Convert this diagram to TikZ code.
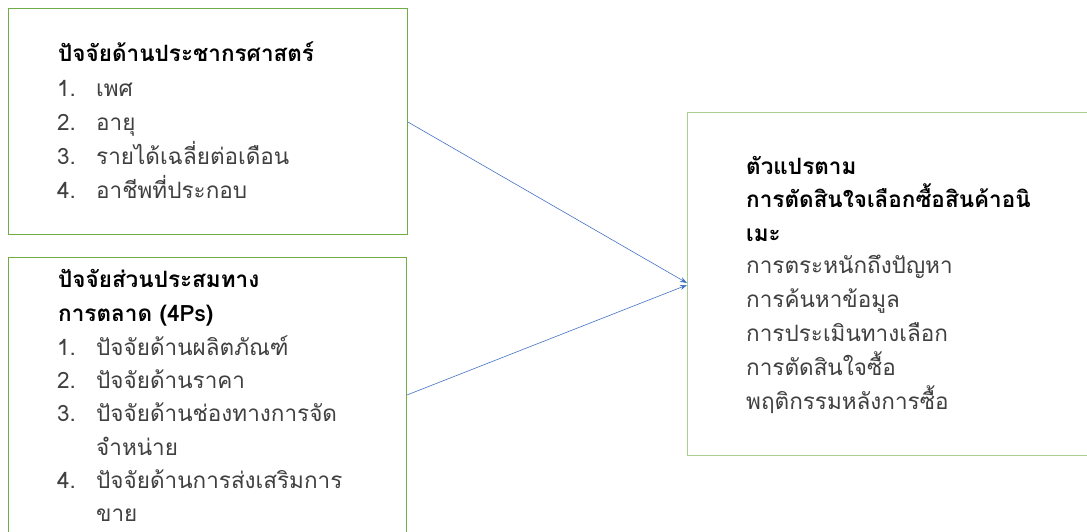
\documentclass[tikz,border=0pt]{standalone}
\usepackage{fontspec}
\setmainfont[Script=Thai]{Loma}
\usetikzlibrary{arrows.meta}
\definecolor{boxgreen}{HTML}{70AD47}
\definecolor{boxlight}{HTML}{A9D18E}
\definecolor{arrblue}{HTML}{4472C4}
\definecolor{itemgray}{HTML}{404040}
\tikzset{
  box/.style={draw=boxgreen, line width=0.9pt, rectangle, anchor=north west, inner sep=0pt},
  txt/.style={anchor=base west, inner sep=0pt, font=\fontsize{22.5}{26}\selectfont, text=itemgray},
  ttl/.style={anchor=base west, inner sep=0pt, font=\fontsize{22.5}{26}\selectfont\bfseries, text=black},
  arr/.style={draw=arrblue, line width=0.6pt, -{Stealth[length=7pt,width=5pt]}}
}
\begin{document}
\begin{tikzpicture}[x=1pt,y=-1pt]
\clip (0,0) rectangle (1087,531);
\fill[white] (0,0) rectangle (1087,531);
% boxes
\node[box, minimum width=399pt, minimum height=226pt] (A) at (8,8) {};
\node[box, minimum width=398pt, minimum height=320pt] (B) at (8,257) {};
\node[box, draw=boxlight, minimum width=420pt, minimum height=343pt] (C) at (687,112) {};
% box A text
\node[ttl] (a0) at (58,61) {ปัจจัยด้านประชากรศาสตร์};
\node[txt] (a1n) at (57,96) {1.};
\node[txt] (a1) at (96,96) {เพศ};
\node[txt] (a2n) at (57,130) {2.};
\node[txt] (a2) at (96,130) {อายุ};
\node[txt] (a3n) at (57,164) {3.};
\node[txt] (a3) at (96,164) {รายได้เฉลี่ยต่อเดือน};
\node[txt] (a4n) at (57,198) {4.};
\node[txt] (a4) at (96,198) {อาชีพที่ประกอบ};
% box B text
\node[ttl] (b0) at (58,287) {ปัจจัยส่วนประสมทาง};
\node[ttl] (b0b) at (58,321) {การตลาด (4Ps)};
\node[txt] (b1n) at (57,355) {1.};
\node[txt] (b1) at (96,355) {ปัจจัยด้านผลิตภัณฑ์};
\node[txt] (b2n) at (57,388) {2.};
\node[txt] (b2) at (96,388) {ปัจจัยด้านราคา};
\node[txt] (b3n) at (57,421) {3.};
\node[txt] (b3) at (96,421) {ปัจจัยด้านช่องทางการจัด};
\node[txt] (b3b) at (96,455) {จำหน่าย};
\node[txt] (b4n) at (57,488) {4.};
\node[txt] (b4) at (96,488) {ปัจจัยด้านการส่งเสริมการ};
\node[txt] (b4b) at (96,521) {ขาย};
% box C text
\node[ttl] (c0) at (746,174) {ตัวแปรตาม};
\node[ttl] (c0b) at (746,207) {การตัดสินใจเลือกซื้อสินค้าอนิ};
\node[ttl] (c0c) at (746,241) {เมะ};
\node[txt] (c1) at (746,273) {การตระหนักถึงปัญหา};
\node[txt] (c2) at (746,307) {การค้นหาข้อมูล};
\node[txt] (c3) at (746,341) {การประเมินทางเลือก};
\node[txt] (c4) at (746,375) {การตัดสินใจซื้อ};
\node[txt] (c5) at (746,409) {พฤติกรรมหลังการซื้อ};
% arrows
\draw[arr] ([yshift=-114pt]A.north east) -- ([yshift=-171pt]C.north west);
\draw[arr] ([yshift=-138pt]B.north east) -- ([yshift=-173pt]C.north west);
\end{tikzpicture}
\end{document}
